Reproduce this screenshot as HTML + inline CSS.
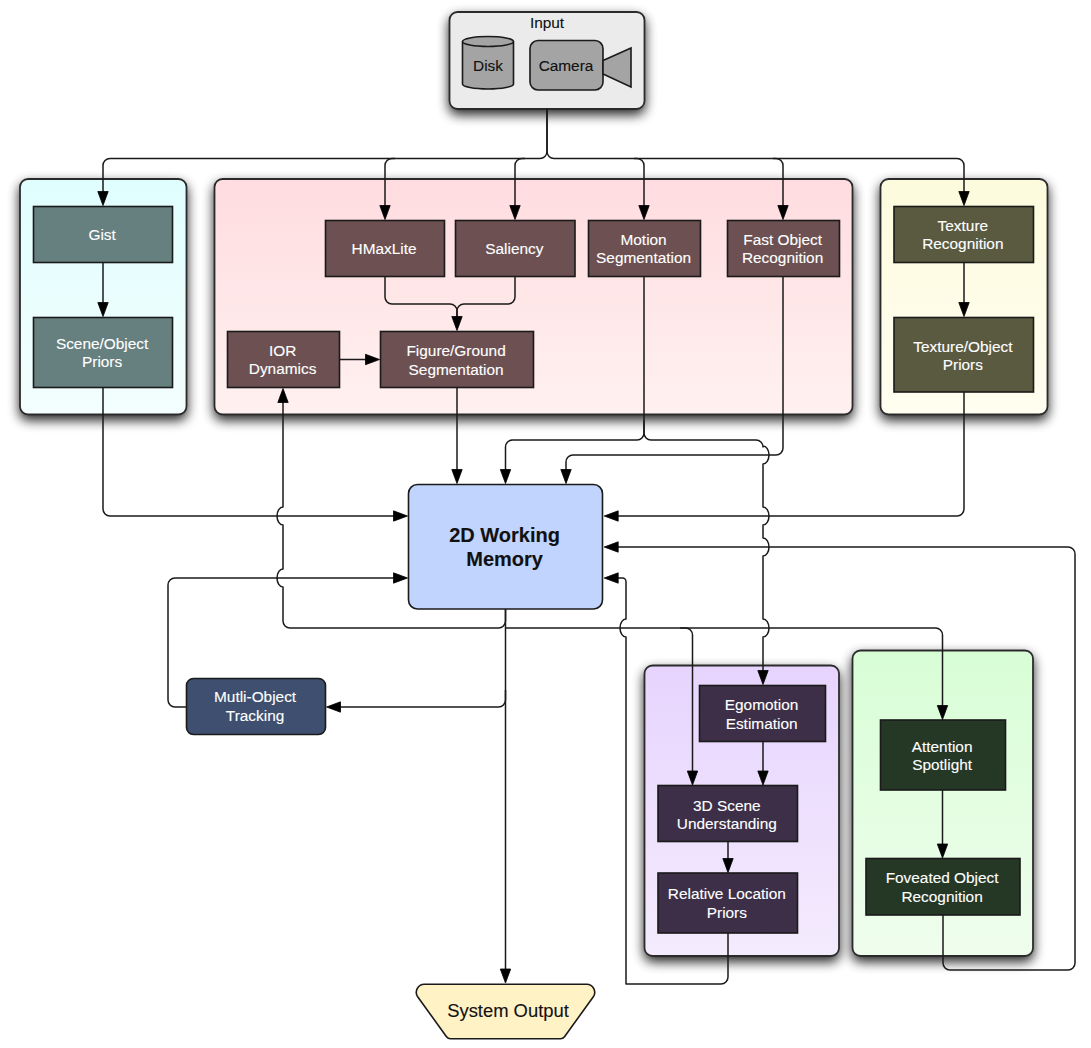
<!DOCTYPE html>
<html><head><meta charset="utf-8"><title>Diagram</title>
<style>html,body{margin:0;padding:0;background:#fff;width:1091px;height:1048px;overflow:hidden}
svg{display:block;font-family:"Liberation Sans",sans-serif}</style></head>
<body>
<svg width="1091" height="1048" viewBox="0 0 1091 1048" font-family="Liberation Sans, sans-serif"><defs><linearGradient id="gc" x1="0" y1="0" x2="0" y2="1"><stop offset="0" stop-color="#e0fefe"/><stop offset="1" stop-color="#f4fefe"/></linearGradient><linearGradient id="gp" x1="0" y1="0" x2="0" y2="1"><stop offset="0" stop-color="#ffdcdf"/><stop offset="1" stop-color="#fff1f0"/></linearGradient><linearGradient id="gy" x1="0" y1="0" x2="0" y2="1"><stop offset="0" stop-color="#fdfbdd"/><stop offset="1" stop-color="#fffef0"/></linearGradient><linearGradient id="gv" x1="0" y1="0" x2="0" y2="1"><stop offset="0" stop-color="#e7d4fe"/><stop offset="1" stop-color="#f4ebfd"/></linearGradient><linearGradient id="gg" x1="0" y1="0" x2="0" y2="1"><stop offset="0" stop-color="#d8fed6"/><stop offset="1" stop-color="#effded"/></linearGradient><filter id="sh" x="-20%" y="-20%" width="140%" height="140%"><feGaussianBlur in="SourceAlpha" stdDeviation="6"/><feOffset dy="5" result="b"/><feComponentTransfer><feFuncA type="linear" slope="0.85"/></feComponentTransfer><feMerge><feMergeNode/><feMergeNode in="SourceGraphic"/></feMerge></filter></defs><rect x="449.5" y="12" width="195.0" height="97" rx="8" fill="#ebebeb" stroke="#2c2c2c" stroke-width="1.8" filter="url(#sh)"/>
<rect x="20" y="179" width="166.5" height="235.5" rx="8" fill="url(#gc)" stroke="#2c2c2c" stroke-width="1.8" filter="url(#sh)"/>
<rect x="214.5" y="179" width="638.0" height="235.5" rx="8" fill="url(#gp)" stroke="#2c2c2c" stroke-width="1.8" filter="url(#sh)"/>
<rect x="880.5" y="179" width="167.0" height="235.5" rx="8" fill="url(#gy)" stroke="#2c2c2c" stroke-width="1.8" filter="url(#sh)"/>
<rect x="644.5" y="665.5" width="194.5" height="290.5" rx="8" fill="url(#gv)" stroke="#2c2c2c" stroke-width="1.8" filter="url(#sh)"/>
<rect x="852.5" y="650.5" width="180.5" height="305.5" rx="8" fill="url(#gg)" stroke="#2c2c2c" stroke-width="1.8" filter="url(#sh)"/>
<rect x="33.5" y="206.5" width="139.0" height="56.0" rx="0" fill="#667f7f" stroke="#1a1a1a" stroke-width="1.6"/>
<text x="102.1" y="240" font-size="15.4" fill="#fff" font-weight="normal" letter-spacing="0" text-anchor="middle" stroke="#fff" stroke-width="0.12">Gist</text>
<rect x="33.5" y="317.5" width="139.0" height="70.0" rx="0" fill="#667f7f" stroke="#1a1a1a" stroke-width="1.6"/>
<text x="102.1" y="348.7" font-size="15.4" fill="#fff" font-weight="normal" letter-spacing="0" text-anchor="middle" stroke="#fff" stroke-width="0.12">Scene/Object</text>
<text x="102.1" y="367.4" font-size="15.4" fill="#fff" font-weight="normal" letter-spacing="0" text-anchor="middle" stroke="#fff" stroke-width="0.12">Priors</text>
<rect x="325.5" y="220.5" width="119.0" height="56.0" rx="0" fill="#6d5152" stroke="#1a1a1a" stroke-width="1.6"/>
<text x="384.1" y="254" font-size="15.4" fill="#fff" font-weight="normal" letter-spacing="0" text-anchor="middle" stroke="#fff" stroke-width="0.12">HMaxLite</text>
<rect x="455.5" y="220.5" width="119.5" height="56.0" rx="0" fill="#6d5152" stroke="#1a1a1a" stroke-width="1.6"/>
<text x="514.35" y="254" font-size="15.4" fill="#fff" font-weight="normal" letter-spacing="0" text-anchor="middle" stroke="#fff" stroke-width="0.12">Saliency</text>
<rect x="588.5" y="220.5" width="112.0" height="56.0" rx="0" fill="#6d5152" stroke="#1a1a1a" stroke-width="1.6"/>
<text x="643.6" y="245" font-size="15.4" fill="#fff" font-weight="normal" letter-spacing="0" text-anchor="middle" stroke="#fff" stroke-width="0.12">Motion</text>
<text x="643.6" y="263" font-size="15.4" fill="#fff" font-weight="normal" letter-spacing="0" text-anchor="middle" stroke="#fff" stroke-width="0.12">Segmentation</text>
<rect x="727.5" y="220.5" width="112.0" height="56.0" rx="0" fill="#6d5152" stroke="#1a1a1a" stroke-width="1.6"/>
<text x="782.6" y="245" font-size="15.4" fill="#fff" font-weight="normal" letter-spacing="0" text-anchor="middle" stroke="#fff" stroke-width="0.12">Fast Object</text>
<text x="782.6" y="263" font-size="15.4" fill="#fff" font-weight="normal" letter-spacing="0" text-anchor="middle" stroke="#fff" stroke-width="0.12">Recognition</text>
<rect x="227.5" y="331.5" width="112.0" height="56.0" rx="0" fill="#6d5152" stroke="#1a1a1a" stroke-width="1.6"/>
<text x="282.6" y="355.5" font-size="15.4" fill="#fff" font-weight="normal" letter-spacing="0" text-anchor="middle" stroke="#fff" stroke-width="0.12">IOR</text>
<text x="282.6" y="374.3" font-size="15.4" fill="#fff" font-weight="normal" letter-spacing="0" text-anchor="middle" stroke="#fff" stroke-width="0.12">Dynamics</text>
<rect x="380.5" y="331.5" width="153.0" height="56.0" rx="0" fill="#6d5152" stroke="#1a1a1a" stroke-width="1.6"/>
<text x="456.1" y="355.8" font-size="15.4" fill="#fff" font-weight="normal" letter-spacing="0" text-anchor="middle" stroke="#fff" stroke-width="0.12">Figure/Ground</text>
<text x="456.1" y="374.5" font-size="15.4" fill="#fff" font-weight="normal" letter-spacing="0" text-anchor="middle" stroke="#fff" stroke-width="0.12">Segmentation</text>
<rect x="894" y="206.5" width="139.5" height="56.0" rx="0" fill="#5a5a41" stroke="#1a1a1a" stroke-width="1.6"/>
<text x="962.85" y="230.7" font-size="15.4" fill="#fff" font-weight="normal" letter-spacing="0" text-anchor="middle" stroke="#fff" stroke-width="0.12">Texture</text>
<text x="962.85" y="249" font-size="15.4" fill="#fff" font-weight="normal" letter-spacing="0" text-anchor="middle" stroke="#fff" stroke-width="0.12">Recognition</text>
<rect x="894" y="317.5" width="139.5" height="74.5" rx="0" fill="#5a5a41" stroke="#1a1a1a" stroke-width="1.6"/>
<text x="962.85" y="351.5" font-size="15.4" fill="#fff" font-weight="normal" letter-spacing="0" text-anchor="middle" stroke="#fff" stroke-width="0.12">Texture/Object</text>
<text x="962.85" y="369.8" font-size="15.4" fill="#fff" font-weight="normal" letter-spacing="0" text-anchor="middle" stroke="#fff" stroke-width="0.12">Priors</text>
<rect x="699.5" y="685.5" width="126.0" height="56.0" rx="0" fill="#3d2f47" stroke="#1a1a1a" stroke-width="1.6"/>
<text x="761.6" y="710" font-size="15.4" fill="#fff" font-weight="normal" letter-spacing="0" text-anchor="middle" stroke="#fff" stroke-width="0.12">Egomotion</text>
<text x="761.6" y="728.6" font-size="15.4" fill="#fff" font-weight="normal" letter-spacing="0" text-anchor="middle" stroke="#fff" stroke-width="0.12">Estimation</text>
<rect x="658" y="785.5" width="139.5" height="56.0" rx="0" fill="#3d2f47" stroke="#1a1a1a" stroke-width="1.6"/>
<text x="726.85" y="810.5" font-size="15.4" fill="#fff" font-weight="normal" letter-spacing="0" text-anchor="middle" stroke="#fff" stroke-width="0.12">3D Scene</text>
<text x="726.85" y="828.5" font-size="15.4" fill="#fff" font-weight="normal" letter-spacing="0" text-anchor="middle" stroke="#fff" stroke-width="0.12">Understanding</text>
<rect x="658" y="873" width="139.5" height="60" rx="0" fill="#3d2f47" stroke="#1a1a1a" stroke-width="1.6"/>
<text x="726.85" y="899.2" font-size="15.4" fill="#fff" font-weight="normal" letter-spacing="0" text-anchor="middle" stroke="#fff" stroke-width="0.12">Relative Location</text>
<text x="726.85" y="917.9" font-size="15.4" fill="#fff" font-weight="normal" letter-spacing="0" text-anchor="middle" stroke="#fff" stroke-width="0.12">Priors</text>
<rect x="880.5" y="720" width="125.0" height="70" rx="0" fill="#253826" stroke="#1a1a1a" stroke-width="1.6"/>
<text x="942.1" y="751.6" font-size="15.4" fill="#fff" font-weight="normal" letter-spacing="0" text-anchor="middle" stroke="#fff" stroke-width="0.12">Attention</text>
<text x="942.1" y="770.2" font-size="15.4" fill="#fff" font-weight="normal" letter-spacing="0" text-anchor="middle" stroke="#fff" stroke-width="0.12">Spotlight</text>
<rect x="866" y="858.5" width="154" height="56.5" rx="0" fill="#253826" stroke="#1a1a1a" stroke-width="1.6"/>
<text x="942.1" y="883.3" font-size="15.4" fill="#fff" font-weight="normal" letter-spacing="0" text-anchor="middle" stroke="#fff" stroke-width="0.12">Foveated Object</text>
<text x="942.1" y="902.2" font-size="15.4" fill="#fff" font-weight="normal" letter-spacing="0" text-anchor="middle" stroke="#fff" stroke-width="0.12">Recognition</text>
<rect x="408.5" y="484.5" width="194.0" height="124.5" rx="9" fill="#c0d4fe" stroke="#1a1a1a" stroke-width="1.6"/>
<text x="504.6" y="541.6" font-size="20" fill="#111" font-weight="bold" letter-spacing="0" text-anchor="middle" stroke="#111" stroke-width="0.12">2D Working</text>
<text x="504.6" y="566.3" font-size="20" fill="#111" font-weight="bold" letter-spacing="0" text-anchor="middle" stroke="#111" stroke-width="0.12">Memory</text>
<rect x="186.5" y="678.5" width="139.0" height="56.0" rx="7" fill="#3e4f6f" stroke="#1a1a1a" stroke-width="1.6"/>
<text x="255.1" y="702.2" font-size="15.4" fill="#fff" font-weight="normal" letter-spacing="0" text-anchor="middle" stroke="#fff" stroke-width="0.12">Mutli-Object</text>
<text x="255.1" y="720.8" font-size="15.4" fill="#fff" font-weight="normal" letter-spacing="0" text-anchor="middle" stroke="#fff" stroke-width="0.12">Tracking</text>
<path d="M424.33,984.30 L586.67,984.30 A8,8 0 0 1 593.16,996.98 L564.50,1036.72 A5,5 0 0 1 560.44,1038.80 L450.56,1038.80 A5,5 0 0 1 446.50,1036.72 L417.84,996.98 A8,8 0 0 1 424.33,984.30 Z" fill="#fff3c6" stroke="#1a1a1a" stroke-width="1.6"/>
<text x="508" y="1016.5" font-size="18.4" fill="#111" font-weight="normal" letter-spacing="0" text-anchor="middle" stroke="#111" stroke-width="0.12">System Output</text>
<text x="547" y="27.6" font-size="15.4" fill="#111" font-weight="normal" letter-spacing="0" text-anchor="middle" stroke="#111" stroke-width="0.12">Input</text>
<path d="M462.5,41.5 V84 A25.5,5 0 0 0 513.5,84 V41.5" fill="#a4a4a4" stroke="#1a1a1a" stroke-width="1.6"/>
<ellipse cx="488" cy="41.5" rx="25.5" ry="5" fill="#a4a4a4" stroke="#1a1a1a" stroke-width="1.6"/>
<text x="488" y="70.9" font-size="15.4" fill="#111" font-weight="normal" letter-spacing="0" text-anchor="middle" stroke="#111" stroke-width="0.12">Disk</text>
<rect x="530" y="40.5" width="73" height="49.5" rx="8" fill="#a4a4a4" stroke="#1a1a1a" stroke-width="1.6"/>
<path d="M603,60.5 L631,48 V87 L603,74 Z" fill="#a4a4a4" stroke="#1a1a1a" stroke-width="1.6" stroke-linejoin="miter"/>
<text x="566" y="70.8" font-size="15.4" fill="#111" font-weight="normal" letter-spacing="0" text-anchor="middle" stroke="#111" stroke-width="0.12">Camera</text>
<path d="M547.00,108.50 L547.00,151.50 A7,7 0 0 1 540.00,158.50 L110.00,158.50 A7,7 0 0 0 103.00,165.50 L103.00,200.00" fill="none" stroke="#1a1a1a" stroke-width="1.5" stroke-linejoin="round"/>
<path d="M547.00,108.50 L547.00,151.50 A7,7 0 0 0 554.00,158.50 L957.00,158.50 A7,7 0 0 1 964.00,165.50 L964.00,200.00" fill="none" stroke="#1a1a1a" stroke-width="1.5" stroke-linejoin="round"/>
<path d="M103.00,205.50 L97.80,191.50 L108.20,191.50 Z" fill="#000" stroke="#000" stroke-width="0.8" stroke-linejoin="miter"/>
<path d="M964.00,205.50 L958.80,191.50 L969.20,191.50 Z" fill="#000" stroke="#000" stroke-width="0.8" stroke-linejoin="miter"/>
<path d="M395.00,158.50 L392.00,158.50 A7,7 0 0 0 385.00,165.50 L385.00,214.00" fill="none" stroke="#1a1a1a" stroke-width="1.5" stroke-linejoin="round"/>
<path d="M385.00,219.50 L379.80,205.50 L390.20,205.50 Z" fill="#000" stroke="#000" stroke-width="0.8" stroke-linejoin="miter"/>
<path d="M525.00,158.50 L522.00,158.50 A7,7 0 0 0 515.00,165.50 L515.00,214.00" fill="none" stroke="#1a1a1a" stroke-width="1.5" stroke-linejoin="round"/>
<path d="M515.00,219.50 L509.80,205.50 L520.20,205.50 Z" fill="#000" stroke="#000" stroke-width="0.8" stroke-linejoin="miter"/>
<path d="M634.00,158.50 L637.00,158.50 A7,7 0 0 1 644.00,165.50 L644.00,214.00" fill="none" stroke="#1a1a1a" stroke-width="1.5" stroke-linejoin="round"/>
<path d="M644.00,219.50 L638.80,205.50 L649.20,205.50 Z" fill="#000" stroke="#000" stroke-width="0.8" stroke-linejoin="miter"/>
<path d="M773.00,158.50 L776.00,158.50 A7,7 0 0 1 783.00,165.50 L783.00,214.00" fill="none" stroke="#1a1a1a" stroke-width="1.5" stroke-linejoin="round"/>
<path d="M783.00,219.50 L777.80,205.50 L788.20,205.50 Z" fill="#000" stroke="#000" stroke-width="0.8" stroke-linejoin="miter"/>
<path d="M103,262.5 V311" fill="none" stroke="#1a1a1a" stroke-width="1.5" stroke-linejoin="round"/>
<path d="M103.00,316.50 L97.80,302.50 L108.20,302.50 Z" fill="#000" stroke="#000" stroke-width="0.8" stroke-linejoin="miter"/>
<path d="M964,262.5 V311" fill="none" stroke="#1a1a1a" stroke-width="1.5" stroke-linejoin="round"/>
<path d="M964.00,316.50 L958.80,302.50 L969.20,302.50 Z" fill="#000" stroke="#000" stroke-width="0.8" stroke-linejoin="miter"/>
<path d="M385.00,276.50 L385.00,297.00 A7,7 0 0 0 392.00,304.00 L450.00,304.00 A7,7 0 0 1 457.00,311.00 L457.00,325.00" fill="none" stroke="#1a1a1a" stroke-width="1.5" stroke-linejoin="round"/>
<path d="M515.00,276.50 L515.00,297.00 A7,7 0 0 1 508.00,304.00 L464.00,304.00 A7,7 0 0 0 457.00,311.00 L457.00,325.00" fill="none" stroke="#1a1a1a" stroke-width="1.5" stroke-linejoin="round"/>
<path d="M457.00,330.50 L451.80,316.50 L462.20,316.50 Z" fill="#000" stroke="#000" stroke-width="0.8" stroke-linejoin="miter"/>
<path d="M339.5,359.5 H374" fill="none" stroke="#1a1a1a" stroke-width="1.5" stroke-linejoin="round"/>
<path d="M379.50,359.50 L365.50,354.30 L365.50,364.70 Z" fill="#000" stroke="#000" stroke-width="0.8" stroke-linejoin="miter"/>
<path d="M457,387.5 V478" fill="none" stroke="#1a1a1a" stroke-width="1.5" stroke-linejoin="round"/>
<path d="M457.00,483.50 L451.80,469.50 L462.20,469.50 Z" fill="#000" stroke="#000" stroke-width="0.8" stroke-linejoin="miter"/>
<path d="M103.00,387.50 L103.00,509.00 A7,7 0 0 0 110.00,516.00 L402.00,516.00" fill="none" stroke="#1a1a1a" stroke-width="1.5" stroke-linejoin="round"/>
<path d="M407.50,516.00 L393.50,510.80 L393.50,521.20 Z" fill="#000" stroke="#000" stroke-width="0.8" stroke-linejoin="miter"/>
<path d="M644.00,276.50 L644.00,433.00 A7,7 0 0 1 637.00,440.00 L512.50,440.00 A7,7 0 0 0 505.50,447.00 L505.50,478.00" fill="none" stroke="#1a1a1a" stroke-width="1.5" stroke-linejoin="round"/>
<path d="M505.50,483.50 L500.30,469.50 L510.70,469.50 Z" fill="#000" stroke="#000" stroke-width="0.8" stroke-linejoin="miter"/>
<path d="M783.00,276.50 L783.00,448.00 A7,7 0 0 1 776.00,455.00 L573.00,455.00 A7,7 0 0 0 566.00,462.00 L566.00,478.00" fill="none" stroke="#1a1a1a" stroke-width="1.5" stroke-linejoin="round"/>
<path d="M566.00,483.50 L560.80,469.50 L571.20,469.50 Z" fill="#000" stroke="#000" stroke-width="0.8" stroke-linejoin="miter"/>
<path d="M964.00,392.00 L964.00,509.00 A7,7 0 0 1 957.00,516.00 L609.00,516.00" fill="none" stroke="#1a1a1a" stroke-width="1.5" stroke-linejoin="round"/>
<path d="M604.20,516.00 L618.20,510.80 L618.20,521.20 Z" fill="#000" stroke="#000" stroke-width="0.8" stroke-linejoin="miter"/>
<path d="M644.00,420.00 L644.00,433.00 A7,7 0 0 0 651.00,440.00 L756.00,440.00 A7,7 0 0 1 763.00,447.00 L763,446 C766.3,446 769,450.05 769,455 C769,459.95 766.3,464 763,464 L763,507 C766.3,507 769,511.05 769,516 C769,520.95 766.3,525 763,525 L763,538 C766.3,538 769,542.05 769,547 C769,551.95 766.3,556 763,556 L763,619 C766.3,619 769,623.05 769,628 C769,632.95 766.3,637 763,637 L763.00,679.00" fill="none" stroke="#1a1a1a" stroke-width="1.5" stroke-linejoin="round"/>
<path d="M763.00,684.50 L757.80,670.50 L768.20,670.50 Z" fill="#000" stroke="#000" stroke-width="0.8" stroke-linejoin="miter"/>
<path d="M943.00,915.00 L943.00,963.00 A7,7 0 0 0 950.00,970.00 L1068.00,970.00 A7,7 0 0 0 1075.00,963.00 L1075.00,554.00 A7,7 0 0 0 1068.00,547.00 L609.00,547.00" fill="none" stroke="#1a1a1a" stroke-width="1.5" stroke-linejoin="round"/>
<path d="M604.20,547.00 L618.20,541.80 L618.20,552.20 Z" fill="#000" stroke="#000" stroke-width="0.8" stroke-linejoin="miter"/>
<path d="M728.00,933.00 L728.00,977.00 A7,7 0 0 1 721.00,984.00 L626.00,984.00 L626,637 C622.7,637 620,632.95 620,628 C620,623.05 622.7,619 626,619 L626.00,581.50 A3.5,3.5 0 0 0 622.50,578.00 L609.00,578.00" fill="none" stroke="#1a1a1a" stroke-width="1.5" stroke-linejoin="round"/>
<path d="M604.20,578.00 L618.20,572.80 L618.20,583.20 Z" fill="#000" stroke="#000" stroke-width="0.8" stroke-linejoin="miter"/>
<path d="M505.5,609 V977" fill="none" stroke="#1a1a1a" stroke-width="1.5" stroke-linejoin="round"/>
<path d="M505.50,983.00 L500.30,969.00 L510.70,969.00 Z" fill="#000" stroke="#000" stroke-width="0.8" stroke-linejoin="miter"/>
<path d="M505.50,609.00 L505.50,621.00 A7,7 0 0 1 498.50,628.00 L290.00,628.00 A7,7 0 0 1 283.00,621.00 L283,587 C279.7,587 277,582.95 277,578 C277,573.05 279.7,569 283,569 L283,525 C279.7,525 277,520.95 277,516 C277,511.05 279.7,507 283,507 L283.00,394.00" fill="none" stroke="#1a1a1a" stroke-width="1.5" stroke-linejoin="round"/>
<path d="M283.00,388.50 L277.80,402.50 L288.20,402.50 Z" fill="#000" stroke="#000" stroke-width="0.8" stroke-linejoin="miter"/>
<path d="M505.50,628.00 L935.50,628.00 A7,7 0 0 1 942.50,635.00 L942.50,714.00" fill="none" stroke="#1a1a1a" stroke-width="1.5" stroke-linejoin="round"/>
<path d="M942.50,719.50 L937.30,705.50 L947.70,705.50 Z" fill="#000" stroke="#000" stroke-width="0.8" stroke-linejoin="miter"/>
<path d="M680.00,628.00 L685.50,628.00 A7,7 0 0 1 692.50,635.00 L692.50,779.00" fill="none" stroke="#1a1a1a" stroke-width="1.5" stroke-linejoin="round"/>
<path d="M692.50,785.00 L687.30,771.00 L697.70,771.00 Z" fill="#000" stroke="#000" stroke-width="0.8" stroke-linejoin="miter"/>
<path d="M505.50,690.00 L505.50,700.00 A7,7 0 0 1 498.50,707.00 L332.00,707.00" fill="none" stroke="#1a1a1a" stroke-width="1.5" stroke-linejoin="round"/>
<path d="M326.50,707.00 L340.50,701.80 L340.50,712.20 Z" fill="#000" stroke="#000" stroke-width="0.8" stroke-linejoin="miter"/>
<path d="M186.50,707.00 L175.00,707.00 A7,7 0 0 1 168.00,700.00 L168.00,585.00 A7,7 0 0 1 175.00,578.00 L402.00,578.00" fill="none" stroke="#1a1a1a" stroke-width="1.5" stroke-linejoin="round"/>
<path d="M407.50,578.00 L393.50,572.80 L393.50,583.20 Z" fill="#000" stroke="#000" stroke-width="0.8" stroke-linejoin="miter"/>
<path d="M763,741.5 V779" fill="none" stroke="#1a1a1a" stroke-width="1.5" stroke-linejoin="round"/>
<path d="M763.00,785.00 L757.80,771.00 L768.20,771.00 Z" fill="#000" stroke="#000" stroke-width="0.8" stroke-linejoin="miter"/>
<path d="M728,841.5 V866" fill="none" stroke="#1a1a1a" stroke-width="1.5" stroke-linejoin="round"/>
<path d="M728.00,872.50 L722.80,858.50 L733.20,858.50 Z" fill="#000" stroke="#000" stroke-width="0.8" stroke-linejoin="miter"/>
<path d="M942.5,790 V852" fill="none" stroke="#1a1a1a" stroke-width="1.5" stroke-linejoin="round"/>
<path d="M942.50,858.00 L937.30,844.00 L947.70,844.00 Z" fill="#000" stroke="#000" stroke-width="0.8" stroke-linejoin="miter"/></svg>
</body></html>
